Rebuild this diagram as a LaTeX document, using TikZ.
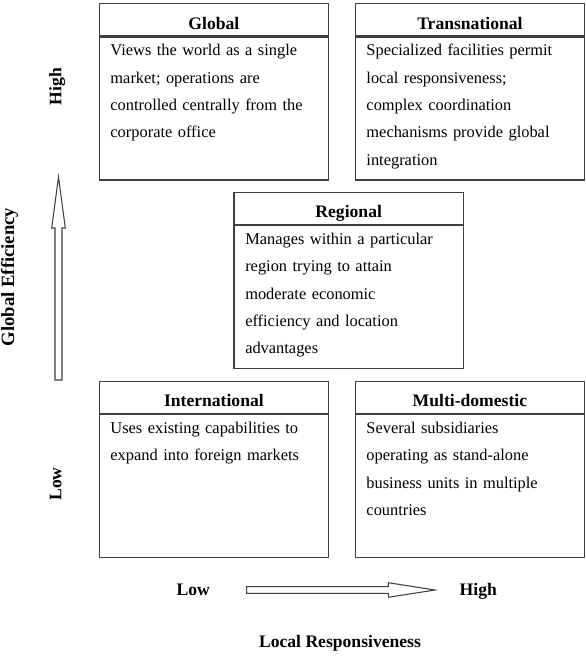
\documentclass[tikz,border=0pt]{standalone}
\usepackage{fontspec}
\setmainfont{Liberation Serif}
\usepackage{tikz}
\usetikzlibrary{positioning}

\tikzset{
  quad/.style={draw=black!75, line width=1pt, minimum width=172.1pt, inner sep=0pt, anchor=north west},
  head/.style={quad, minimum height=24pt, text height=14pt, text depth=0pt,
    font=\fontsize{13.2}{15}\selectfont\bfseries},
  body/.style={quad, minimum height=107.25pt},
  desc/.style={inner sep=0pt, anchor=base west, text width=165pt, align=left,
    font=\fontsize{12.3}{20.5}\selectfont},
  axis/.style={font=\fontsize{13.2}{15}\selectfont\bfseries},
  fat/.style={draw=black!75, line width=0.8pt, fill=white}
}

\begin{document}
\begin{tikzpicture}[x=0.75pt, y=-0.75pt]
            \useasboundingbox (0,0) rectangle (586,669);
            % top row
            \node[head] (globhead) at (98.5,3) {Global};
            \node[body] (globbody) at (globhead.south west) {};
            \node[desc] (globtxt) at ([shift={(11.7,19.5)}]globbody.north west)
                {Views the world as a single\\ market; operations are\\ controlled centrally from the\\ corporate office};
            \node[head] (tranhead) at (354.5,3) {Transnational};
            \node[body] (tranbody) at (tranhead.south west) {};
            \node[desc] (trantxt) at ([shift={(11.7,19.5)}]tranbody.north west)
                {Specialized facilities permit\\ local responsiveness;\\ complex coordination\\ mechanisms provide global\\ integration};
            % middle
            \node[head] (reghead) at (233.3,191.7) {Regional};
            \node[body] (regbody) at (reghead.south west) {};
            \node[desc] (regtxt) at ([shift={(11.7,19.5)}]regbody.north west)
                {Manages within a particular\\ region trying to attain\\ moderate economic\\ efficiency and location\\ advantages};
            % bottom row
            \node[head] (inthead) at (98.5,380.7) {International};
            \node[body] (intbody) at (inthead.south west) {};
            \node[desc] (inttxt) at ([shift={(11.7,19.5)}]intbody.north west)
                {Uses existing capabilities to\\ expand into foreign markets};
            \node[head] (multhead) at (354.5,380.7) {Multi-domestic};
            \node[body] (multbody) at (multhead.south west) {};
            \node[desc] (multtxt) at ([shift={(11.7,19.5)}]multbody.north west)
                {Several subsidiaries\\ operating as stand-alone\\ business units in multiple\\ countries};
            % vertical axis
            \draw[fat] (55,380) -- (55,228) -- (51.7,228) -- (58.5,177) -- (65.3,228)
                -- (62,228) -- (62,380) -- cycle;
            \node[axis, rotate=90, anchor=base] (effhigh) at (61.5,86.5) {High};
            \node[axis, rotate=90, anchor=base] (efflow) at (61.5,484) {Low};
            \node[axis, rotate=90, anchor=base, font=\fontsize{14}{16}\selectfont\bfseries]
                (efftitle) at (14,277) {Global Efficiency};
            % horizontal axis
            \draw[fat] (246.7,586.7) -- (388.3,586.7) -- (388.3,582.7) -- (435,590)
                -- (388.3,597.3) -- (388.3,593.3) -- (246.7,593.3) -- cycle;
            \node[axis, anchor=base] (reslow) at (193.3,595) {Low};
            \node[axis, anchor=base] (reshigh) at (478.3,595) {High};
            \node[axis, anchor=base] (restitle) at (340,647) {Local Responsiveness};
        \end{tikzpicture}
\end{document}
